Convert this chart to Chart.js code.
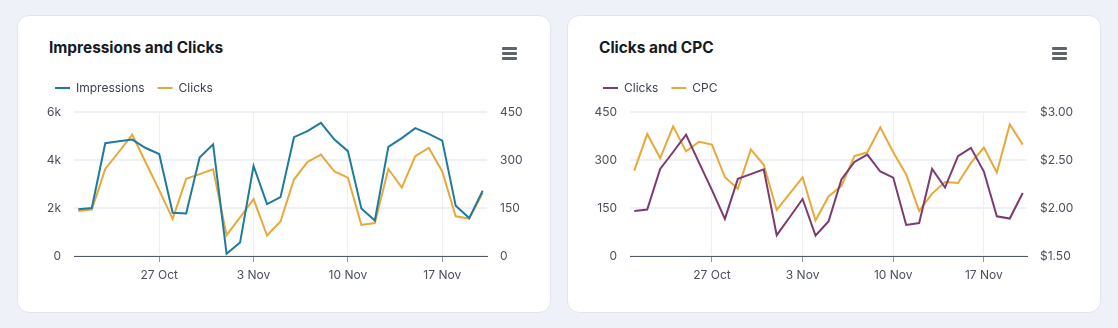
<!DOCTYPE html>
<html>
<head>
<meta charset="utf-8">
<script src="https://cdn.jsdelivr.net/npm/chart.js@4"></script>
<style>
  html, body { margin: 0; padding: 0; }
  body { width: 1118px; height: 328px; background: #eef2f8; position: relative; overflow: hidden; font-family: Inter, "Noto Sans", sans-serif; }
  .card { position: absolute; top: 15px; width: 532px; height: 296px; background: #fff; border: 1px solid #e1e6ee; border-radius: 12px; }
  .title { position: absolute; left: 31px; top: 22px; font-size: 15.4px; font-weight: 700; color: #161a22; }
  .menu { position: absolute; left: 484px; top: 31px; width: 15px; }
  .menu span { display: block; height: 2.5px; background: #5f636b; margin-bottom: 2.5px; border-radius: 1px; }
  .card canvas { position: absolute; }
</style>
</head>
<body>
<div class="card" style="left:17px">
  <div class="title">Impressions and Clicks</div>
  <div class="menu"><span></span><span></span><span></span></div>
  <canvas id="chartA" style="left:24px;top:53px"></canvas>
</div>
<div class="card" style="left:567px">
  <div class="title">Clicks and CPC</div>
  <div class="menu"><span></span><span></span><span></span></div>
  <canvas id="chartB" style="left:22px;top:53px"></canvas>
</div>
<script>
// daily data, 21 Oct - 20 Nov
const days = ["21 Oct", "22 Oct", "23 Oct", "24 Oct", "25 Oct", "26 Oct", "27 Oct",
  "28 Oct", "29 Oct", "30 Oct", "31 Oct", "1 Nov", "2 Nov", "3 Nov", "4 Nov", "5 Nov",
  "6 Nov", "7 Nov", "8 Nov", "9 Nov", "10 Nov", "11 Nov", "12 Nov", "13 Nov", "14 Nov",
  "15 Nov", "16 Nov", "17 Nov", "18 Nov", "19 Nov", "20 Nov"];
const tickDays = [6, 13, 20, 27];

const impressions = [1950, 2000, 4700, 4780, 4850, 4500, 4250, 1800, 1770, 4100, 4650,
  90, 560, 3750, 2160, 2450, 4950, 5200, 5550, 4850, 4370, 1980, 1480, 4550, 4910,
  5330, 5090, 4810, 2090, 1580, 2720];
const clicks = [141, 145, 272, 325, 379, 292, 206, 116, 241, 256, 271, 65, 121, 178,
  64, 108, 239, 294, 317, 264, 245, 97, 103, 272, 214, 312, 338, 264, 124, 117, 197];
const cpc = [2.39, 2.77, 2.52, 2.85, 2.59, 2.69, 2.66, 2.32, 2.20, 2.61, 2.45, 1.98,
  2.15, 2.32, 1.87, 2.12, 2.23, 2.54, 2.58, 2.84, 2.58, 2.35, 1.97, 2.15, 2.27, 2.26,
  2.47, 2.63, 2.37, 2.87, 2.66];

const leftTicks = [0, 2000, 4000, 6000];
const clickTicks = [0, 150, 300, 450];
const cpcTicks = [1.5, 2.0, 2.5, 3.0];

const BLUE = "#1e7b9e";
const ORANGE = "#e8a83a";
const PURPLE = "#7c3b6e";

Chart.defaults.font.family = "Inter, 'Noto Sans', sans-serif";
Chart.defaults.font.size = 12;
Chart.defaults.color = "#4a4f5a";

const pts = (arr) => arr.map((v, i) => ({ x: i, y: v }));

const lineSet = (label, arr, color, axis) => ({
  label: label,
  data: pts(arr),
  borderColor: color,
  backgroundColor: color,
  borderWidth: 2,
  pointRadius: 0,
  tension: 0,
  yAxisID: axis,
});

// legend needs a fixed height so the plot lands in the same place
const legendHeight = (h) => ({
  id: "legendHeight",
  beforeInit(chart) {
    const fit = chart.legend.fit;
    chart.legend.fit = function () {
      fit.bind(chart.legend)();
      this.height = h;
    };
  },
});

const makeChart = (id, w, h, sets, yl, yr, leftW, rightW, pad) => {
  const canvas = document.getElementById(id);
  canvas.width = w;
  canvas.height = h;
  canvas.style.width = w + "px";
  canvas.style.height = h + "px";
  return new Chart(canvas, {
    type: "line",
    data: { datasets: sets },
    plugins: [legendHeight(43)],
    options: {
      responsive: false,
      animation: false,
      layout: { padding: 0 },
      plugins: {
        tooltip: { enabled: false },
        legend: {
          position: "top",
          align: "start",
          labels: {
            boxWidth: 15,
            boxHeight: 2,
            padding: 13,
            color: "#3b404b",
            font: { size: 12 },
            generateLabels: (chart) =>
              Chart.defaults.plugins.legend.labels.generateLabels(chart).map((l) => ({ ...l, lineWidth: 0 })),
          },
        },
      },
      scales: {
        x: {
          type: "linear",
          min: -pad,
          max: days.length - 1 + pad,
          afterBuildTicks: (scale) => { scale.ticks = tickDays.map((v) => ({ value: v })); },
          afterFit: (scale) => { scale.height = 40; },
          ticks: { padding: 6, maxRotation: 0, callback: (v) => days[v] },
          grid: { color: "#edf0f5", tickColor: "#9298a3", tickLength: 6, lineWidth: 1 },
          border: { color: "#50576a", width: 1 },
        },
        yL: {
          position: "left",
          min: yl.ticks[0],
          max: yl.ticks[yl.ticks.length - 1],
          afterBuildTicks: (scale) => { scale.ticks = yl.ticks.map((v) => ({ value: v })); },
          afterFit: (scale) => { scale.width = leftW; },
          ticks: { padding: 13, callback: yl.fmt },
          grid: { color: "#edf0f5", lineWidth: 2, drawTicks: false },
          border: { display: false },
        },
        yR: {
          position: "right",
          min: yr.ticks[0],
          max: yr.ticks[yr.ticks.length - 1],
          afterBuildTicks: (scale) => { scale.ticks = yr.ticks.map((v) => ({ value: v })); },
          afterFit: (scale) => { scale.width = rightW; },
          ticks: { padding: 13, callback: yr.fmt },
          grid: { drawOnChartArea: false, drawTicks: false },
          border: { display: false },
        },
      },
    },
  });
};

makeChart("chartA", 500, 227,
  [lineSet("Impressions", impressions, BLUE, "yL"), lineSet("Clicks", clicks, ORANGE, "yR")],
  { ticks: leftTicks, fmt: (v) => (v === 0 ? "0" : v / 1000 + "k") },
  { ticks: clickTicks, fmt: (v) => String(v) },
  32, 55, 0.32);

makeChart("chartB", 500, 227,
  [lineSet("Clicks", clicks, PURPLE, "yL"), lineSet("CPC", cpc, ORANGE, "yR")],
  { ticks: clickTicks, fmt: (v) => String(v) },
  { ticks: cpcTicks, fmt: (v) => "$" + v.toFixed(2) },
  40, 63, 0.33);
</script>
</body>
</html>
